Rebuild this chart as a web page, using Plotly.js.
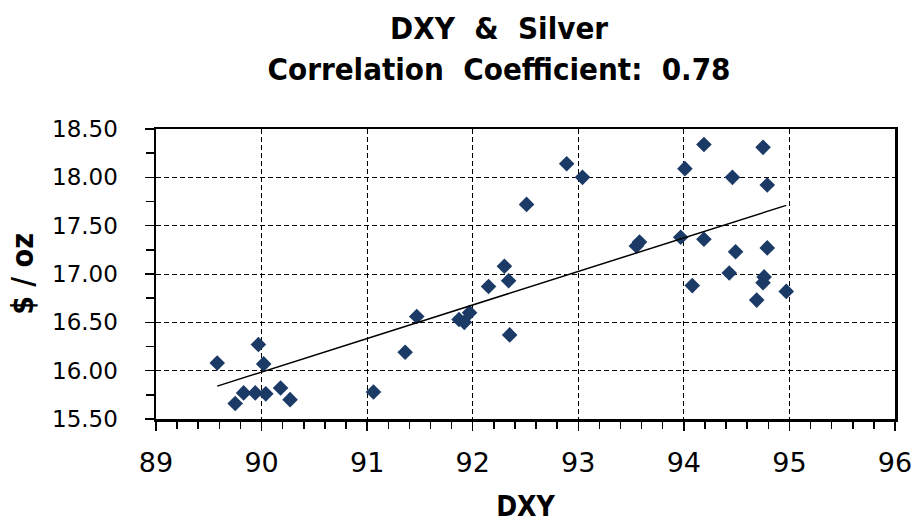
<!DOCTYPE html>
<html>
<head>
<meta charset="utf-8">
<script src="https://cdn.plot.ly/plotly-3.0.1.min.js"></script>
<style>
html,body{margin:0;padding:0;background:#fff;}
#chart{width:914px;height:523px;}
</style>
</head>
<body>
<div id="chart"></div>
<script>
// DXY values (x) and Silver price $/oz (y)
var dxy = [89.58, 89.75, 89.83, 89.94, 89.97, 90.02, 90.04, 90.18, 90.27,
           91.06, 91.36, 91.47, 91.87, 91.92, 91.97, 92.15, 92.30, 92.34,
           92.35, 92.51, 92.89, 93.04, 93.55, 93.58, 93.97, 94.01, 94.08,
           94.19, 94.19, 94.43, 94.46, 94.49, 94.69, 94.75, 94.75, 94.76,
           94.79, 94.79, 94.97];
var silver = [16.08, 15.66, 15.77, 15.77, 16.27, 16.07, 15.76, 15.82, 15.70,
              15.78, 16.19, 16.56, 16.53, 16.50, 16.60, 16.87, 17.08, 16.93,
              16.37, 17.72, 18.14, 18.00, 17.29, 17.33, 17.38, 18.09, 16.88,
              18.34, 17.36, 17.01, 18.00, 17.23, 16.73, 18.31, 16.91, 16.97,
              17.92, 17.27, 16.82];
// linear trend line endpoints
var trendX = [89.58, 94.97];
var trendY = [15.84, 17.71];

var titleFont = "'DejaVu Sans Condensed', 'DejaVu Sans', sans-serif";
var tickFont = "'DejaVu Sans', sans-serif";

var traces = [
  {
    x: dxy, y: silver, type: 'scatter', mode: 'markers',
    marker: {symbol: 'diamond', size: 12, color: '#1B3A66'},
    showlegend: false, hoverinfo: 'x+y'
  },
  {
    x: trendX, y: trendY, type: 'scatter', mode: 'lines',
    line: {color: '#000000', width: 1.5},
    showlegend: false, hoverinfo: 'skip'
  }
];

var layout = {
  width: 914, height: 523,
  paper_bgcolor: '#ffffff', plot_bgcolor: '#ffffff',
  margin: {l: 156, r: 19, t: 129, b: 104, pad: 0},
  title: {
    text: 'DXY\u00a0 &\u00a0 Silver<br>Correlation\u00a0 Coefficient:\u00a0 0.78',
    font: {family: titleFont, size: 31, color: '#000', weight: 'bold'},
    x: 0.546, xref: 'container', xanchor: 'center',
    y: 0.925, yref: 'container', yanchor: 'middle'
  },
  xaxis: {
    range: [89, 96], dtick: 1, tick0: 89,
    showgrid: true, gridcolor: '#000', gridwidth: 1, griddash: '5px,3px',
    zeroline: false,
    showline: true, linecolor: '#000', linewidth: 2.5, mirror: true,
    ticks: 'outside', ticklen: 9, tickwidth: 1.5, tickcolor: '#000',
    ticklabelstandoff: 9,
    tickfont: {family: tickFont, size: 27, color: '#000'},
    minor: {dtick: 0.2, ticks: 'outside', ticklen: 7, tickwidth: 1.5, tickcolor: '#000', showgrid: false},
    title: {text: 'DXY', font: {family: titleFont, size: 28, color: '#000', weight: 'bold'}, standoff: 29},
    fixedrange: true
  },
  yaxis: {
    range: [15.5, 18.5], dtick: 0.5, tick0: 15.5, tickformat: '.2f',
    showgrid: true, gridcolor: '#000', gridwidth: 1, griddash: '5px,3px',
    zeroline: false,
    showline: true, linecolor: '#000', linewidth: 2.5, mirror: true,
    ticks: 'outside', ticklen: 9, tickwidth: 1.5, tickcolor: '#000',
    ticklabelstandoff: 22,
    tickfont: {family: tickFont, size: 23, color: '#000'},
    minor: {dtick: 0.25, ticks: 'outside', ticklen: 8, tickwidth: 1.5, tickcolor: '#000', showgrid: false},
    title: {text: '$ / oz', font: {family: titleFont, size: 30, color: '#000', weight: 'bold'}, standoff: 10},
    fixedrange: true
  }
};

Plotly.newPlot('chart', traces, layout, {displayModeBar: false, staticPlot: true});
</script>
</body>
</html>
